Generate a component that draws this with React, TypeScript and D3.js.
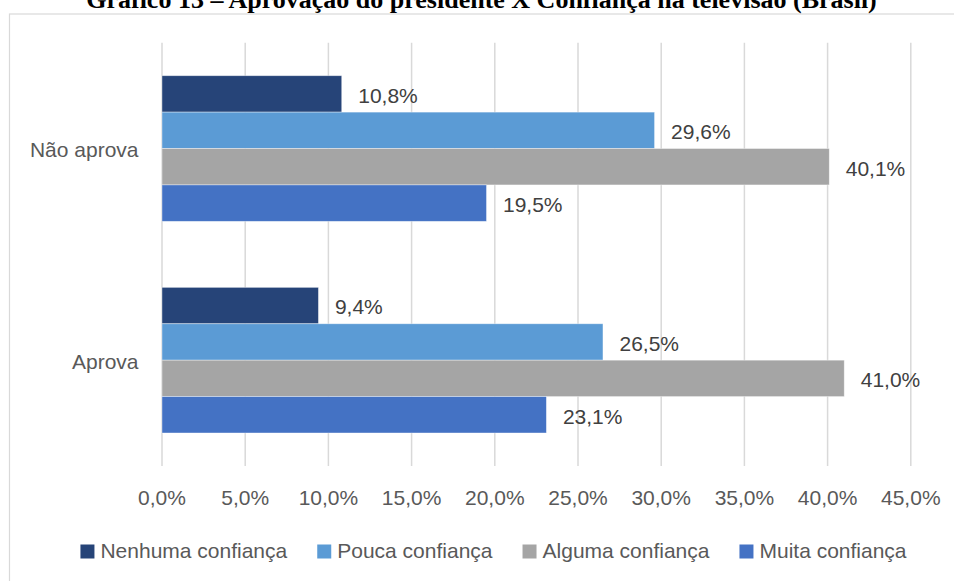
import React, { useEffect, useRef } from "react";
import * as d3 from "d3";

const categories = ["Não aprova", "Aprova"];
const seriesNames = ["Nenhuma confiança", "Pouca confiança", "Alguma confiança", "Muita confiança"];
const seriesColors = ["#264478", "#5B9BD5", "#A5A5A5", "#4472C4"];
// values per category, in series order
const naoAprova = [10.8, 29.6, 40.1, 19.5];
const aprova = [9.4, 26.5, 41.0, 23.1];
const xTicks = [0, 5, 10, 15, 20, 25, 30, 35, 40, 45];

const title = "Gráfico 13 – Aprovação do presidente X Confiança na televisão (Brasil)";

const width = 954;
const height = 581;
const FONT = "'Liberation Sans', Arial, sans-serif";
const TEXT = "#595959";

const fmt = (v: number) => v.toFixed(1).replace(".", ",") + "%";

const App = () => {
  const svgRef = useRef<SVGSVGElement>(null);

  useEffect(() => {
    const svg = d3.select(svgRef.current);
    svg.selectAll("*").remove();

    const rows = [naoAprova, aprova];

    const x = d3.scaleLinear().domain([0, 45]).range([162, 910.8]);
    const y = d3.scaleBand().domain(categories).range([42.7, 466]).paddingInner(0.312).paddingOuter(0.156);
    const ySub = d3.scaleBand().domain(seriesNames).range([0, y.bandwidth()]);

    // chart frame (cut by the page edges, as in the source)
    svg
      .append("rect")
      .attr("x", 9.5)
      .attr("y", 14)
      .attr("width", 1200)
      .attr("height", 800)
      .attr("fill", "none")
      .attr("stroke", "#d9d9d9")
      .attr("stroke-width", 1.2);

    // title (top part is cut off in the source)
    svg
      .append("text")
      .attr("x", 481.5)
      .attr("y", 7.5)
      .attr("text-anchor", "middle")
      .style("font-family", "'Liberation Serif', 'Times New Roman', serif")
      .style("font-weight", "bold")
      .style("font-size", "26px")
      .attr("fill", "#000")
      .text(title);

    // gridlines
    svg
      .append("g")
      .selectAll("line")
      .data(xTicks)
      .enter()
      .append("line")
      .attr("x1", (d) => x(d))
      .attr("x2", (d) => x(d))
      .attr("y1", 42.7)
      .attr("y2", 466)
      .attr("stroke", "#d9d9d9")
      .attr("stroke-width", 1.5);

    // tick labels
    svg
      .append("g")
      .selectAll("text")
      .data(xTicks)
      .enter()
      .append("text")
      .attr("x", (d) => x(d))
      .attr("y", 498)
      .attr("dy", "0.35em")
      .attr("text-anchor", "middle")
      .style("font-family", FONT)
      .style("font-size", "21px")
      .attr("fill", TEXT)
      .text((d) => fmt(d));

    // category labels
    svg
      .append("g")
      .selectAll("text")
      .data(categories)
      .enter()
      .append("text")
      .attr("x", 138.5)
      .attr("y", (d) => (y(d) as number) + y.bandwidth() / 2 + 1)
      .attr("dy", "0.35em")
      .attr("text-anchor", "end")
      .style("font-family", FONT)
      .style("font-size", "21px")
      .attr("fill", TEXT)
      .text((d) => d);

    // bars and labels
    categories.forEach((cat, ci) => {
      const g = svg.append("g").attr("transform", `translate(0,${y(cat)})`);
      const vals = rows[ci];
      g.selectAll("rect")
        .data(vals)
        .enter()
        .append("rect")
        .attr("x", x(0))
        .attr("y", (d, i) => ySub(seriesNames[i]) as number)
        .attr("width", (d) => x(d) - x(0))
        .attr("height", ySub.bandwidth())
        .attr("fill", (d, i) => seriesColors[i])
        .attr("stroke", "#ffffff")
        .attr("stroke-opacity", 0.5)
        .attr("stroke-width", 0.75);

      g.selectAll("text")
        .data(vals)
        .enter()
        .append("text")
        .attr("x", (d) => x(d) + 16.5)
        .attr("y", (d, i) => (ySub(seriesNames[i]) as number) + ySub.bandwidth() / 2 + 1.5)
        .attr("dy", "0.35em")
        .style("font-family", FONT)
        .style("font-size", "21px")
        .attr("fill", "#404040")
        .text((d) => fmt(d));
    });

    // legend
    const legend = svg.append("g");
    const gap = 30;
    let cx = 0;
    seriesNames.forEach((name, i) => {
      const item = legend.append("g").attr("transform", `translate(${cx},0)`);
      item
        .append("rect")
        .attr("x", 0)
        .attr("y", 544.5)
        .attr("width", 14)
        .attr("height", 14)
        .attr("fill", seriesColors[i]);
      const t = item
        .append("text")
        .attr("x", 20)
        .attr("y", 551)
        .attr("dy", "0.35em")
        .style("font-family", FONT)
        .style("font-size", "21px")
        .attr("fill", TEXT)
        .text(name);
      const w = (t.node() as SVGTextElement).getComputedTextLength();
      cx += 20 + w + gap;
    });
    const total = cx - gap;
    legend.attr("transform", `translate(${493.5 - total / 2},0)`);
  }, []);

  return (
    <svg
      ref={svgRef}
      width={width}
      height={height}
      style={{ position: "absolute", left: 0, top: 0, background: "#fff" }}
    ></svg>
  );
};

export default App;
